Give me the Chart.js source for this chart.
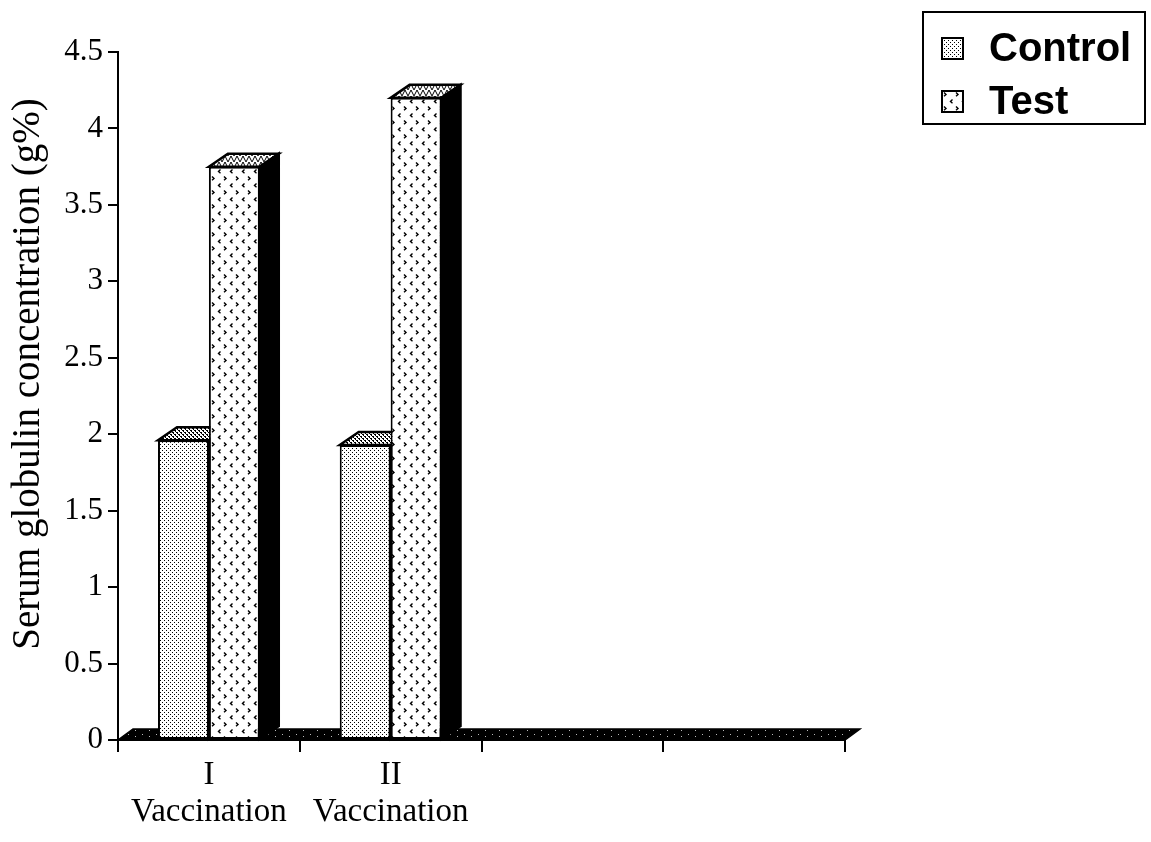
<!DOCTYPE html>
<html>
<head>
<meta charset="utf-8">
<script src="https://cdn.jsdelivr.net/npm/chart.js@4.4.1/dist/chart.umd.min.js"></script>
<style>
  html, body { margin: 0; padding: 0; background: #fff; }
  #wrap { width: 1151px; height: 842px; }
</style>
</head>
<body>
<div id="wrap"><canvas id="c" width="1151" height="842"></canvas></div>
<script>
// Categories (two vaccinations, two empty slots on the axis)
const categories = [['I', 'Vaccination'], ['II', 'Vaccination'], '', ''];
const seriesNames = ['Control', 'Test'];
const controlValues = [1.96, 1.93, null, null];
const testValues = [3.75, 4.2, null, null];
const yMin = 0;
const yMax = 4.5;
const yStep = 0.5;
const yTitle = 'Serum globulin concentration (g%)';

const SERIF = '"Liberation Serif", "Times New Roman", serif';
const canvas = document.getElementById('c');
const mainCtx = canvas.getContext('2d');

// Small tiles used as fill patterns
function makePattern(w, h, bg, draw) {
  const t = document.createElement('canvas');
  t.width = w; t.height = h;
  const g = t.getContext('2d');
  g.fillStyle = bg; g.fillRect(0, 0, w, h);
  g.fillStyle = '#000'; g.strokeStyle = '#000';
  draw(g);
  return mainCtx.createPattern(t, 'repeat');
}

// fine stipple for Control
const stipple = makePattern(4, 4, '#fff', g => {
  g.fillRect(0, 0, 1, 1);
  g.fillRect(2, 2, 1, 1);
});

// sparse chevrons for Test
const chevrons = makePattern(12, 14, '#fff', g => {
  g.lineWidth = 1.4;
  g.beginPath(); g.moveTo(4.5, 1.5); g.lineTo(2.5, 3.5); g.lineTo(4.5, 5.2); g.stroke();
  g.beginPath(); g.moveTo(8, 8.5); g.lineTo(10, 10.5); g.lineTo(8, 12.2); g.stroke();
});

// hatches for the top faces
const hatchDark = makePattern(4, 4, '#fff', g => {
  g.fillRect(0, 0, 2, 1); g.fillRect(2, 2, 2, 1); g.fillRect(1, 1, 1, 1); g.fillRect(3, 3, 1, 1);
});
const hatchLight = makePattern(6, 6, '#fff', g => {
  g.lineWidth = 1;
  g.beginPath(); g.moveTo(0, 6); g.lineTo(3, 0); g.lineTo(6, 6); g.stroke();
});

// near-black floor with a few light specks
const floorFill = makePattern(14, 6, '#000', g => {
  g.fillStyle = '#bbb';
  g.fillRect(2, 2, 1, 1);
  g.fillRect(9, 4, 1, 1);
});

const frontFills = [stipple, chevrons];
const topFills = [hatchDark, hatchLight];

// depth of the pseudo 3-D extrusion
const DX = 19, DY = 13;

const whiteBg = {
  id: 'whiteBg',
  beforeDraw(chart) {
    const c = chart.ctx;
    c.save(); c.fillStyle = '#fff'; c.fillRect(0, 0, chart.width, chart.height); c.restore();
  }
};

// floor, top faces and side faces drawn behind the bar fronts
const extrude = {
  id: 'extrude',
  beforeDatasetsDraw(chart) {
    const c = chart.ctx;
    const xs = chart.scales.x, ys = chart.scales.y;
    const base = ys.getPixelForValue(0);
    c.save();
    c.lineWidth = 1.5;
    c.strokeStyle = '#000';
    c.beginPath();
    c.moveTo(xs.left, base);
    c.lineTo(xs.right, base);
    c.lineTo(xs.right + 15, base - 11);
    c.lineTo(xs.left + 15, base - 11);
    c.closePath();
    c.fillStyle = floorFill; c.fill(); c.stroke();

    chart.data.datasets.forEach((ds, i) => {
      const meta = chart.getDatasetMeta(i);
      meta.data.forEach((bar, j) => {
        if (ds.data[j] == null) return;
        const p = bar.getProps(['x', 'y', 'base', 'width'], true);
        const l = p.x - p.width / 2, r = p.x + p.width / 2;
        c.beginPath();
        c.moveTo(l, p.y); c.lineTo(l + DX, p.y - DY); c.lineTo(r + DX, p.y - DY); c.lineTo(r, p.y);
        c.closePath();
        c.fillStyle = topFills[i]; c.fill(); c.lineWidth = 2.5; c.stroke();
        c.beginPath();
        c.moveTo(r, p.y); c.lineTo(r + DX, p.y - DY); c.lineTo(r + DX, p.base - DY); c.lineTo(r, p.base);
        c.closePath();
        c.fillStyle = '#000'; c.fill(); c.stroke();
      });
    });
    c.restore();
  }
};

// rotated y-axis title
const yAxisTitle = {
  id: 'yAxisTitle',
  afterDraw(chart) {
    const c = chart.ctx;
    c.save();
    c.translate(39, 374);
    c.rotate(-Math.PI / 2);
    c.font = '39px ' + SERIF;
    c.fillStyle = '#000';
    c.textAlign = 'center';
    c.textBaseline = 'alphabetic';
    c.fillText(yTitle, 0, 0);
    c.restore();
  }
};

// boxed legend at the top right
const boxLegend = {
  id: 'boxLegend',
  afterDraw(chart) {
    const c = chart.ctx;
    const bx = 923, by = 12, bw = 222, bh = 112;
    c.save();
    c.fillStyle = '#fff';
    c.fillRect(bx, by, bw, bh);
    c.lineWidth = 2; c.strokeStyle = '#000';
    c.strokeRect(bx, by, bw, bh);
    c.font = 'bold 40px "Liberation Sans", Arial, sans-serif';
    c.textBaseline = 'middle';
    c.textAlign = 'left';
    seriesNames.forEach((name, i) => {
      const cy = by + 36 + i * 53;
      c.fillStyle = frontFills[i];
      c.fillRect(bx + 19, cy - 10, 21, 21);
      c.lineWidth = 2;
      c.strokeRect(bx + 19, cy - 10, 21, 21);
      c.fillStyle = '#000';
      c.fillText(name, bx + 66, cy + 2);
    });
    c.restore();
  }
};

new Chart(canvas, {
  type: 'bar',
  data: {
    labels: categories,
    datasets: [
      { label: seriesNames[0], data: controlValues, backgroundColor: frontFills[0] },
      { label: seriesNames[1], data: testValues, backgroundColor: frontFills[1] }
    ]
  },
  options: {
    responsive: false,
    animation: false,
    devicePixelRatio: 1,
    layout: { padding: { left: 0, right: 306, top: 52, bottom: 0 } },
    datasets: {
      bar: {
        borderColor: '#000',
        borderWidth: 2,
        borderSkipped: false,
        barPercentage: 1,
        categoryPercentage: 0.56,
        clip: false
      }
    },
    plugins: {
      legend: { display: false },
      tooltip: { enabled: false }
    },
    scales: {
      x: {
        offset: true,
        grid: {
          offset: true,
          drawOnChartArea: false,
          drawTicks: true,
          tickLength: 12,
          color: '#000',
          lineWidth: 2
        },
        border: { display: true, color: '#000', width: 2 },
        ticks: {
          color: '#000',
          padding: 5,
          maxRotation: 0,
          autoSkip: false,
          font: { family: SERIF, size: 33, lineHeight: 1.12 }
        },
        afterFit(scale) { scale.height = 102; }
      },
      y: {
        min: yMin,
        max: yMax,
        grid: {
          drawOnChartArea: false,
          drawTicks: true,
          tickLength: 10,
          color: '#000',
          lineWidth: 2
        },
        border: { display: true, color: '#000', width: 2 },
        ticks: {
          stepSize: yStep,
          color: '#000',
          padding: 5,
          font: { family: SERIF, size: 31 },
          callback: v => String(Number(v.toFixed(2)))
        },
        title: { display: false },
        afterFit(scale) { scale.width = 118; }
      }
    }
  },
  plugins: [whiteBg, extrude, yAxisTitle, boxLegend]
});
</script>
</body>
</html>
